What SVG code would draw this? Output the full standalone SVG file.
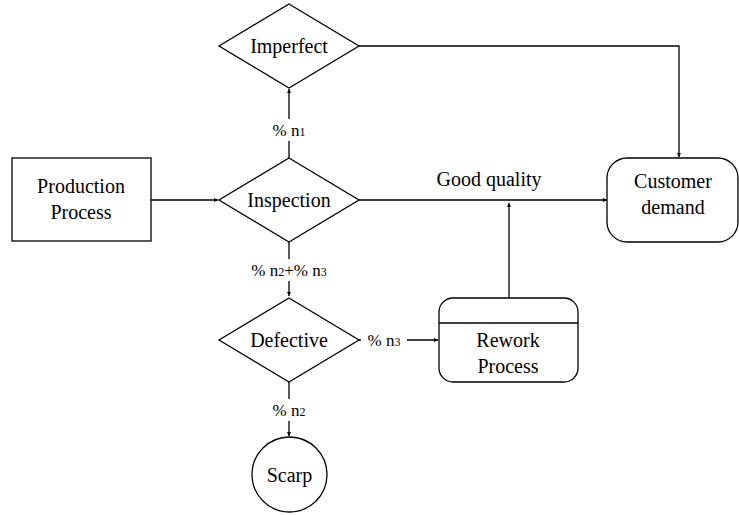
<svg xmlns="http://www.w3.org/2000/svg" width="739" height="515" viewBox="0 0 739 515">
<style>
.s{fill:#fff;stroke:#000;stroke-width:1.3}
.t,.l{font-family:'Liberation Serif','Times New Roman',Times,'Noto Serif','Nimbus Roman','DejaVu Serif',serif;fill:#000;text-anchor:middle}
.t{font-size:20px}
.l{font-size:17px}
.c{fill:none;stroke:#000;stroke-width:1.3}
</style>
<defs>
<marker id="a" viewBox="0 0 6 6" refX="6" refY="3" markerWidth="4" markerHeight="4" orient="auto" markerUnits="userSpaceOnUse"><path d="M0,0L6,3L0,6z" fill="#000"/></marker>
</defs>
<rect width="739" height="515" fill="#fff"/>
<g id="connectors">
<path class="c" d="M151,200H218" marker-end="url(#a)"/>
<path class="c" d="M359,200H607" marker-end="url(#a)"/>
<path class="c" d="M359,46H679V157" marker-end="url(#a)"/>
<path class="c" d="M289,158V89" marker-end="url(#a)"/>
<path class="c" d="M289,242V296" marker-end="url(#a)"/>
<path class="c" d="M289,382V436" marker-end="url(#a)"/>
<path class="c" d="M359,340H438" marker-end="url(#a)"/>
<path class="c" d="M509,298V203" marker-end="url(#a)"/>
</g>
<g id="labels">
<rect x="264" y="119" width="50" height="22" fill="#fff"/>
<text class="l" x="289" y="136">% n<tspan font-size="12">1</tspan></text>
<rect x="244" y="259" width="90" height="22" fill="#fff"/>
<text class="l" x="289" y="276">% n<tspan font-size="12">2</tspan>+% n<tspan font-size="12">3</tspan></text>
<rect x="264" y="399" width="50" height="22" fill="#fff"/>
<text class="l" x="289" y="416">% n<tspan font-size="12">2</tspan></text>
<rect x="361" y="329" width="46" height="22" fill="#fff"/>
<text class="l" x="384" y="346">% n<tspan font-size="12">3</tspan></text>
<text class="t" x="489" y="186">Good quality</text>
</g>
<g id="production">
<rect class="s" x="12" y="158" width="139" height="83"/>
<text class="t" x="81" y="193">Production</text>
<text class="t" x="81" y="219">Process</text>
</g>
<g id="imperfect">
<path class="s" d="M289,4L359,46L289,88L219,46Z"/>
<text class="t" x="289" y="53">Imperfect</text>
</g>
<g id="inspection">
<path class="s" d="M289,158L359,200L289,242L219,200Z"/>
<text class="t" x="289" y="207">Inspection</text>
</g>
<g id="defective">
<path class="s" d="M289,298L359,340L289,382L219,340Z"/>
<text class="t" x="289" y="347">Defective</text>
</g>
<g id="scarp">
<circle class="s" cx="289.5" cy="474.5" r="37.5"/>
<text class="t" x="289.5" y="482">Scarp</text>
</g>
<g id="customer">
<rect class="s" x="607" y="158" width="131" height="84" rx="20"/>
<text class="t" x="673" y="188">Customer</text>
<text class="t" x="673" y="214">demand</text>
</g>
<g id="rework">
<rect class="s" x="439" y="298" width="139" height="84" rx="14"/>
<path class="c" d="M439,323H578"/>
<text class="t" x="508" y="347">Rework</text>
<text class="t" x="508" y="373">Process</text>
</g>
</svg>
